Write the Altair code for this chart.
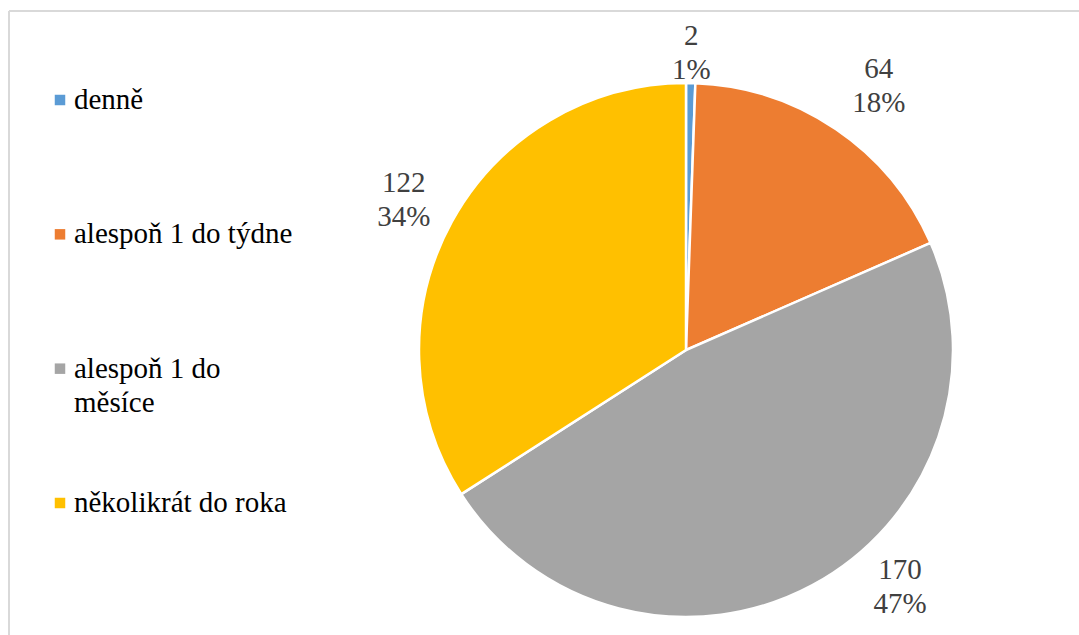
import math
import altair as alt
import pandas as pd

# ---- data ----
categories = ["denně", "alespoň 1 do týdne", "alespoň 1 do měsíce", "několikrát do roka"]
legend_labels = ["denně", "alespoň 1 do týdne", "alespoň 1 do\nměsíce", "několikrát do roka"]
counts = [2, 64, 170, 122]

# ---- styles ----
palette = ["#5B9BD5", "#ED7D31", "#A5A5A5", "#FFC000"]
FONT = "Liberation Serif"
FS = 29
CX, CY, R = 686, 350, 267
# per-label placement (radius px, angular nudge in degrees), like Excel's best-fit
label_layout = {
    "denně": (300, 0.0),
    "alespoň 1 do týdne": (329, 1.7),
    "alespoň 1 do měsíce": (317, -14.3),
    "několikrát do roka": (321, -0.2),
}

total = sum(counts)
df = pd.DataFrame({
    "cat": categories,
    "count": counts,
    "idx": list(range(len(categories))),
    "legend": legend_labels,
})
df["label"] = [f"{c}\n{round(c / total * 100)}%" for c in counts]

base = alt.Chart(df)
color = alt.Color("cat:N", scale=alt.Scale(domain=categories, range=palette), legend=None)

pie = base.mark_arc(radius=R, stroke="white", strokeWidth=2.5).encode(
    theta=alt.Theta("count:Q", stack=True, scale=alt.Scale(domain=[0, total])),
    order=alt.Order("idx:Q"),
    color=color,
    x=alt.value(CX),
    y=alt.value(CY),
)

label_layers = []
for cat, (rad, off) in label_layout.items():
    lyr = base.transform_window(
        cum="sum(count)", sort=[alt.SortField("idx")], frame=[None, 0]
    ).transform_calculate(
        mid="datum.cum - datum.count / 2"
    ).transform_filter(
        alt.datum.cat == cat
    ).mark_text(
        radius=rad, thetaOffset=math.radians(off), font=FONT, fontSize=FS,
        color="#404040", align="center", baseline="middle", lineBreak="\n", lineHeight=34,
        dy=-14,
    ).encode(
        theta=alt.Theta("mid:Q", scale=alt.Scale(domain=[0, total])),
        text="label:N",
        x=alt.value(CX),
        y=alt.value(CY),
    )
    label_layers.append(lyr)

leg_y = alt.Y("cat:N", scale=alt.Scale(domain=categories, range=[100, 503], padding=0), axis=None)
leg_sym = base.mark_square(size=110, opacity=1).encode(
    x=alt.value(60), y=leg_y, color=color,
)
leg_txt = base.mark_text(
    align="left", baseline="alphabetic", dy=9, font=FONT, fontSize=FS,
    color="#000000", lineBreak="\n", lineHeight=34,
).encode(x=alt.value(74), y=leg_y, text="legend:N")

frame_top = base.mark_rule(color="#d9d9d9", strokeWidth=2).encode(
    x=alt.value(9), x2=alt.value(1079), y=alt.value(11)
)
frame_left = base.mark_rule(color="#d9d9d9", strokeWidth=2).encode(
    x=alt.value(9), y=alt.value(11), y2=alt.value(635)
)

chart = alt.layer(frame_top, frame_left, pie, *label_layers, leg_sym, leg_txt).properties(
    width=1079, height=635, padding=0,
    autosize=alt.AutoSizeParams(type="none"),
    background="white",
).configure_view(stroke=None)

chart.save("out.html", embed_options={"renderer": "svg", "actions": False})
